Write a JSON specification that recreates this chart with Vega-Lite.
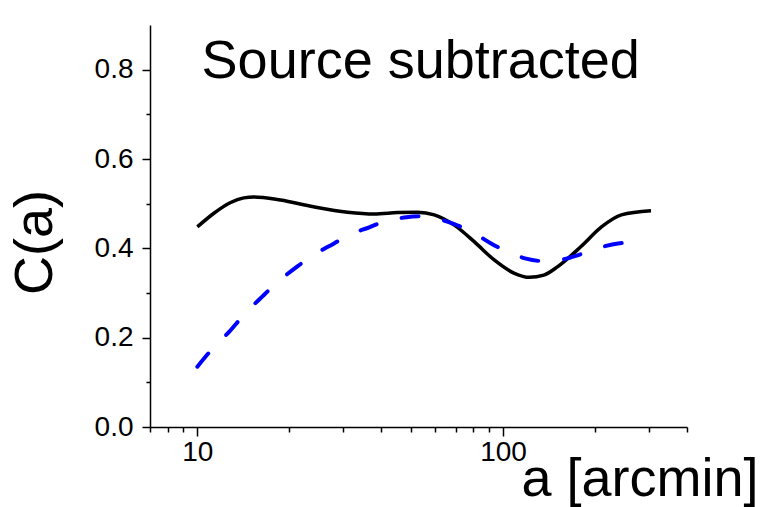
{
  "$schema": "https://vega.github.io/schema/vega-lite/v6.json",
  "autosize": "none",
  "width": 537,
  "height": 402,
  "padding": {"left": 150, "top": 25, "right": 75, "bottom": 80},
  "background": "white",
  "config": {
    "view": {"stroke": null},
    "axis": {"grid": false, "domainColor": "black", "domainWidth": 1.5, "tickColor": "black", "tickWidth": 1.5, "labelFont": "Liberation Sans", "labelFontSize": 28, "labelColor": "black", "titleFont": "Liberation Sans", "titleFontSize": 54, "titleFontWeight": "normal", "titleColor": "black"}
  },
  "datasets": {
    "solid": [
      {"a": 10, "C": 0.448}, {"a": 11.3, "C": 0.478}, {"a": 12.8, "C": 0.502}, {"a": 14.2, "C": 0.513},
      {"a": 15.3, "C": 0.515}, {"a": 18.7, "C": 0.508}, {"a": 24, "C": 0.493}, {"a": 31, "C": 0.481},
      {"a": 37.9, "C": 0.477}, {"a": 45.2, "C": 0.48}, {"a": 52.5, "C": 0.481}, {"a": 59.6, "C": 0.475},
      {"a": 69.3, "C": 0.452}, {"a": 80.5, "C": 0.415}, {"a": 93.6, "C": 0.374}, {"a": 109, "C": 0.344},
      {"a": 122, "C": 0.335}, {"a": 136, "C": 0.34}, {"a": 151, "C": 0.359}, {"a": 180, "C": 0.404},
      {"a": 210, "C": 0.448}, {"a": 244, "C": 0.475}, {"a": 305, "C": 0.484}
    ],
    "dashed": [
      {"a": 10, "C": 0.135}, {"a": 11, "C": 0.169}, {"a": 12.7, "C": 0.213}, {"a": 14.2, "C": 0.251},
      {"a": 16.3, "C": 0.292}, {"a": 18.2, "C": 0.323}, {"a": 21.2, "C": 0.359}, {"a": 24, "C": 0.385},
      {"a": 28, "C": 0.411}, {"a": 31.3, "C": 0.43}, {"a": 36.5, "C": 0.447}, {"a": 40.8, "C": 0.46},
      {"a": 47.5, "C": 0.469}, {"a": 53.2, "C": 0.472}, {"a": 61.9, "C": 0.465}, {"a": 69.3, "C": 0.454},
      {"a": 80.5, "C": 0.434}, {"a": 91.4, "C": 0.411}, {"a": 106, "C": 0.389}, {"a": 119, "C": 0.377},
      {"a": 138, "C": 0.371}, {"a": 157, "C": 0.375}, {"a": 180, "C": 0.387}, {"a": 204, "C": 0.4},
      {"a": 238, "C": 0.411}, {"a": 270, "C": 0.413}
    ],
    "note": [{"label": "Source subtracted"}]
  },
  "resolve": {"axis": {"x": "independent", "y": "independent"}},
  "layer": [
    {
      "data": {"name": "solid"},
      "mark": {"type": "line", "color": "black", "strokeWidth": 3.5, "interpolate": "monotone"},
      "encoding": {
        "x": {"field": "a", "type": "quantitative",
          "scale": {"type": "log", "domain": [7, 400], "nice": false},
          "axis": {"orient": "bottom", "values": [10, 100], "format": "d", "tickSize": 9, "labelPadding": 2,
            "title": "a [arcmin]", "titleX": 608, "titleY": 68, "titleAlign": "right", "titleBaseline": "alphabetic", "titleAnchor": null}},
        "y": {"field": "C", "type": "quantitative",
          "scale": {"domain": [0, 0.9], "nice": false, "zero": false},
          "axis": {"orient": "left", "values": [0, 0.2, 0.4, 0.6, 0.8], "format": ".1f", "tickSize": 8, "labelPadding": 9,
            "title": "C(a)", "titleAngle": -90, "titleX": -99, "titleY": 217, "titleAlign": "center", "titleBaseline": "alphabetic"}}
      }
    },
    {
      "data": {"name": "dashed"},
      "mark": {"type": "line", "color": "#0000ff", "strokeWidth": 4, "strokeDash": [17, 26], "strokeCap": "round", "interpolate": "monotone"},
      "encoding": {
        "x": {"field": "a", "type": "quantitative",
          "scale": {"type": "log", "domain": [7, 400], "nice": false},
          "axis": {"orient": "bottom", "values": [7, 8, 9, 20, 30, 40, 50, 60, 70, 80, 90, 200, 300, 400], "tickSize": 5, "labels": false, "domain": false, "title": null}},
        "y": {"field": "C", "type": "quantitative",
          "scale": {"domain": [0, 0.9], "nice": false, "zero": false},
          "axis": {"orient": "left", "values": [0.1, 0.3, 0.5, 0.7], "tickSize": 4, "labels": false, "domain": false, "title": null}}
      }
    },
    {
      "data": {"name": "note"},
      "mark": {"type": "text", "font": "Liberation Sans", "fontSize": 54, "color": "black", "align": "center", "baseline": "alphabetic"},
      "encoding": {
        "x": {"datum": 53.8, "type": "quantitative", "axis": null},
        "y": {"datum": 0.781, "type": "quantitative", "axis": null},
        "text": {"field": "label", "type": "nominal"}
      }
    }
  ]
}
